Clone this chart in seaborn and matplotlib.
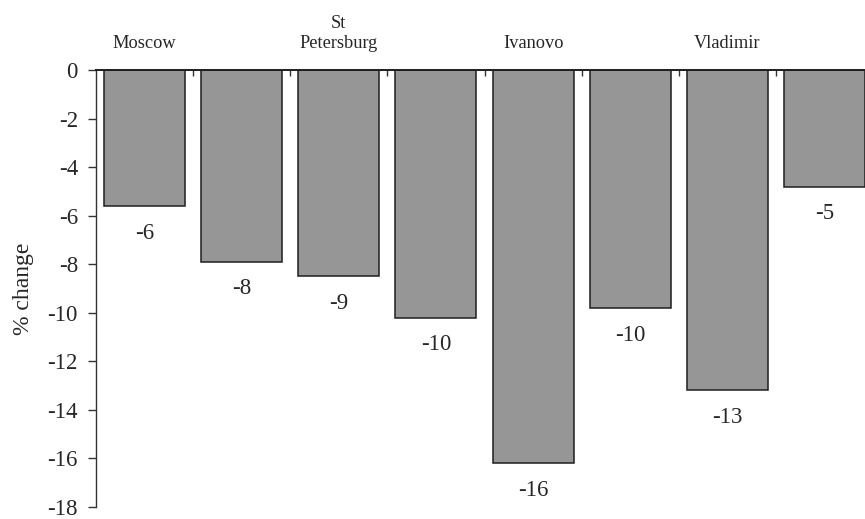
import pandas as pd
import matplotlib
matplotlib.use("Agg")
import matplotlib.pyplot as plt
import seaborn as sns

# bars: two per city, city name shown over the first of each pair
bar_ids = ["b1", "b2", "b3", "b4", "b5", "b6", "b7", "b8"]
pct_change = [-5.6, -7.9, -8.5, -10.2, -16.2, -9.8, -13.2, -4.8]
value_labels = ["-6", "-8", "-9", "-10", "-16", "-10", "-13", "-5"]
city_labels = ["Moscow", "St\nPetersburg", "Ivanovo", "Vladimir"]
city_pos = [0, 2, 4, 6]

sns.set_style("white")
plt.rcParams["font.family"] = ["Liberation Serif", "DejaVu Serif"]
plt.rcParams["axes.unicode_minus"] = False

df = pd.DataFrame({"bar": bar_ids, "pct": pct_change})

fig = plt.figure(figsize=(8.65, 5.19), dpi=100)
ax = fig.add_axes([96 / 865, 1 - 507 / 519, (873 - 96) / 865, (507 - 70) / 519])

sns.barplot(data=df, x="bar", y="pct", order=bar_ids, color="#969696",
            saturation=1, width=0.835, edgecolor="#1e1e1e", linewidth=1.1,
            ax=ax)

for i, (v, lab) in enumerate(zip(pct_change, value_labels)):
    ax.annotate(lab, (i, v), xytext=(0, -19.5), textcoords="offset points",
                ha="center", va="center", fontsize=16.5)

ax.set_xlim(-0.5, 7.5)
ax.set_ylim(-18, 0)
ax.set_yticks(range(-18, 1, 2))
ax.tick_params(axis="y", direction="out", length=6, width=1, labelsize=16.5,
               pad=7, left=True, color="#333333")

# x axis sits at zero, along the top
ax.xaxis.set_ticks_position("top")
ax.xaxis.set_label_position("top")
ax.set_xticks([i + 0.5 for i in range(7)])
ax.set_xticklabels([])
ax.tick_params(axis="x", which="major", direction="in", length=4, width=1,
               top=True, bottom=False, color="#333333")
ax.set_xticks(city_pos, minor=True)
ax.set_xticklabels(city_labels, minor=True, fontsize=13.2)
ax.tick_params(axis="x", which="minor", length=0, pad=13, top=True,
               bottom=False, labeltop=True, labelbottom=False)
ax.set_xlabel("")

ax.spines["bottom"].set_visible(False)
ax.spines["right"].set_visible(False)
ax.spines["top"].set_color("#1e1e1e")
ax.spines["left"].set_color("#333333")
ax.spines["top"].set_linewidth(1.4)
ax.spines["left"].set_linewidth(1)

ax.set_ylabel("% change", fontsize=17, labelpad=10)

fig.savefig("out.png", dpi=100)
